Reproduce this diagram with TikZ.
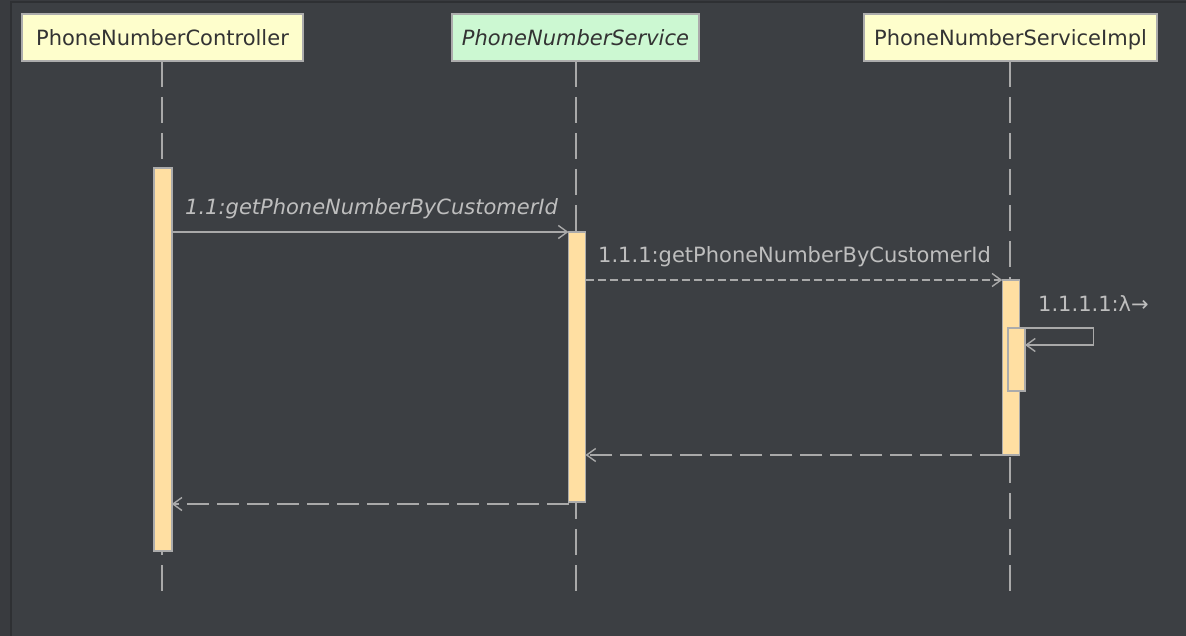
\documentclass[tikz,border=0pt]{standalone}
\usepackage{fontspec}
\setmainfont{DejaVu Sans}
\usetikzlibrary{arrows.meta,calc}
\definecolor{bgc}{HTML}{3C3F43}
\definecolor{outc}{HTML}{393B3F}
\definecolor{framec}{HTML}{2E3033}
\definecolor{hdrY}{HTML}{FEFECC}
\definecolor{hdrG}{HTML}{CCF8D2}
\definecolor{hdrB}{HTML}{ACACAC}
\definecolor{hdrT}{HTML}{333333}
\definecolor{barF}{HTML}{FFDFA2}
\definecolor{barB}{HTML}{ABABAB}
\definecolor{lnc}{HTML}{A9A9A9}
\definecolor{lblc}{HTML}{BEBEBE}
\tikzset{
  hdr/.style={draw=hdrB, line width=1.8pt, minimum height=47pt, inner sep=0pt, outer sep=0pt,
    text=hdrT, text height=16pt, text depth=0pt, font=\fontsize{21}{25}\selectfont},
  actbar/.style={draw=barB, fill=barF, line width=1.5pt, inner sep=0pt, outer sep=0pt},
  lifeline/.style={draw=lnc, line width=1.6pt, dash pattern=on 26pt off 10pt},
  msg/.style={draw=lnc, line width=1.4pt, -{Straight Barb[length=9pt,width=13pt]}},
  retmsg/.style={msg, dash pattern=on 22pt off 8pt},
  dmsg/.style={msg, dash pattern=on 8pt off 4pt},
  lbl/.style={text=lblc, anchor=base west, inner sep=0pt, font=\fontsize{21}{25}\selectfont},
}
\begin{document}
\begin{tikzpicture}[x=1pt,y=-1pt]
\useasboundingbox (0,0) rectangle (1186,636);
\fill[outc] (0,0) rectangle (1186,636);
\fill[bgc] (11,3) rectangle (1186,636);
\draw[framec, line width=2pt] (10.5,636) -- (10.5,2.5) -- (1186,2.5);

% headers
\node[hdr, fill=hdrY, minimum width=281pt] (hc) at (162.5,37.5) {PhoneNumberController};
\node[hdr, fill=hdrG, minimum width=247pt] (hs) at (575.5,37.5) {\itshape PhoneNumberService};
\node[hdr, fill=hdrY, minimum width=293pt] (hi) at (1010.5,37.5) {PhoneNumberServiceImpl};

% lifeline ends
\coordinate (ce) at (162,591);
\coordinate (se) at (576,591);
\coordinate (ie) at (1010,591);
\draw[lifeline] (hc.south -| ce) -- (ce);
\draw[lifeline] (hs.south -| se) -- (se);
\draw[lifeline] (hi.south -| ie) -- (ie);

% activation bars
\node[actbar, minimum width=18pt, minimum height=383pt] (cbar) at (162.75,359.5) {};
\node[actbar, minimum width=17pt, minimum height=270pt] (sbar) at (577,367) {};
\node[actbar, minimum width=17pt, minimum height=175pt] (ibar) at (1010.75,367.5) {};
\node[actbar, minimum width=17.3pt, minimum height=63pt] (nbar) at (1016.4,359.5) {};

% messages
\draw[msg] (cbar.east |- sbar.north) -- (sbar.north west);
\node[lbl] (l1) at (185,215) {\itshape 1.1:getPhoneNumberByCustomerId};

\draw[dmsg] (sbar.east |- ibar.north) -- (ibar.north west);
\node[lbl] (l2) at (598,263) {1.1.1:getPhoneNumberByCustomerId};

\draw[msg] (ibar.east |- nbar.north) -- ++(74,0) -- ++(0,17) -- ($(nbar.north east)+(0,17)$);
\node[lbl] (l3) at (1038,312) {1.1.1.1:λ→};

\draw[retmsg] (ibar.south west) -- (ibar.south west -| sbar.east);
\draw[retmsg] ($(sbar.south west)+(0,2)$) -- ($(sbar.south west -| cbar.east)+(0,2)$);
\end{tikzpicture}
\end{document}
